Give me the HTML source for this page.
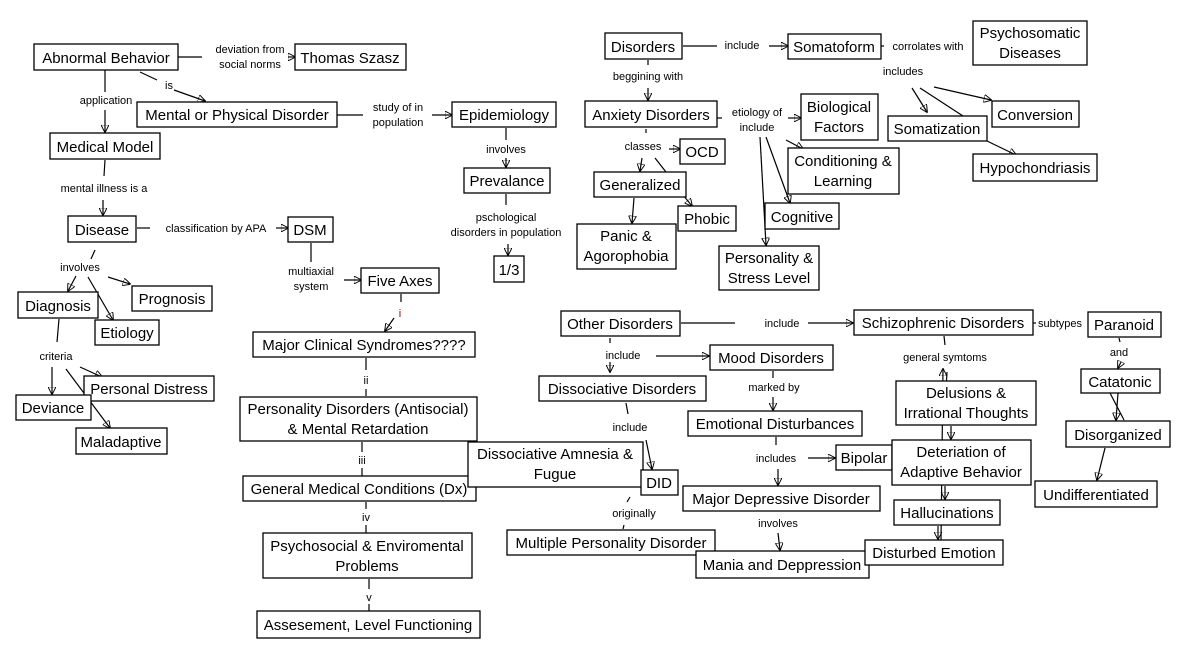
<!DOCTYPE html>
<html><head><meta charset="utf-8"><style>
body{margin:0;background:#fff}
svg{display:block}
.n rect{fill:#fff;stroke:#000;stroke-width:1.3}
.n text{font-family:"Liberation Sans",Arial,sans-serif;font-size:15px;fill:#000;text-anchor:middle}
.l{font-family:"Liberation Sans",Arial,sans-serif;font-size:11px;fill:#000;text-anchor:middle}
line,path{stroke:#000;stroke-width:1.2;fill:none}
</style></head><body>
<svg width="1181" height="658" viewBox="0 0 1181 658" xmlns="http://www.w3.org/2000/svg">
<defs><marker id="a" viewBox="0 0 10 10" refX="9" refY="5" markerWidth="8" markerHeight="8" orient="auto-start-reverse" markerUnits="userSpaceOnUse"><path d="M0,0 L10,5 L0,10 z" fill="#000" stroke="none"/></marker></defs>

<!-- connectors -->
<g>
<line x1="178" y1="57" x2="202" y2="57"/><line x1="288" y1="57" x2="295" y2="57" marker-end="url(#a)"/>
<line x1="140" y1="72" x2="157" y2="80"/><line x1="174" y1="90" x2="205" y2="101" marker-end="url(#a)"/>
<line x1="105" y1="70" x2="105" y2="92"/><line x1="105" y1="110" x2="105" y2="132" marker-end="url(#a)"/>
<line x1="337" y1="115" x2="363" y2="115"/><line x1="432" y1="115" x2="452" y2="115" marker-end="url(#a)"/>
<line x1="506" y1="128" x2="506" y2="140"/><line x1="506" y1="158" x2="506" y2="167" marker-end="url(#a)"/>
<line x1="506" y1="194" x2="506" y2="205"/><line x1="508" y1="244" x2="508" y2="255" marker-end="url(#a)"/>
<line x1="105" y1="160" x2="104" y2="176"/><line x1="103" y1="200" x2="103" y2="215" marker-end="url(#a)"/>
<line x1="137" y1="228" x2="150" y2="228"/><line x1="276" y1="228" x2="288" y2="228" marker-end="url(#a)"/>
<line x1="311" y1="243" x2="311" y2="262"/><line x1="344" y1="280" x2="361" y2="280" marker-end="url(#a)"/>
<line x1="401" y1="294" x2="401" y2="302"/><line x1="394" y1="318" x2="385" y2="331" marker-end="url(#a)"/>
<line x1="95" y1="250" x2="91" y2="259"/>
<line x1="76" y1="276" x2="68" y2="291" marker-end="url(#a)"/>
<line x1="108" y1="277" x2="130" y2="284" marker-end="url(#a)"/>
<line x1="88" y1="277" x2="113" y2="320" marker-end="url(#a)"/>
<line x1="59" y1="319" x2="57" y2="342"/>
<line x1="52" y1="367" x2="52" y2="394" marker-end="url(#a)"/>
<line x1="80" y1="367" x2="102" y2="377" marker-end="url(#a)"/>
<line x1="66" y1="369" x2="110" y2="428" marker-end="url(#a)"/>
<line x1="366" y1="358" x2="366" y2="370"/><line x1="366" y1="389" x2="366" y2="396"/>
<line x1="362" y1="442" x2="362" y2="452"/><line x1="362" y1="468" x2="362" y2="476"/>
<line x1="366" y1="502" x2="366" y2="509"/><line x1="366" y1="525" x2="366" y2="533"/>
<line x1="369" y1="579" x2="369" y2="589"/><line x1="369" y1="604" x2="369" y2="611"/>
<line x1="683" y1="46" x2="717" y2="46"/><line x1="769" y1="46" x2="788" y2="46" marker-end="url(#a)"/>
<line x1="881" y1="46" x2="884" y2="46"/>
<line x1="912" y1="88" x2="927" y2="112" marker-end="url(#a)"/>
<line x1="920" y1="88" x2="963" y2="116"/>
<line x1="934" y1="87" x2="991" y2="100" marker-end="url(#a)"/>
<line x1="987" y1="141" x2="1016" y2="155" marker-end="url(#a)"/>
<line x1="648" y1="60" x2="648" y2="65"/><line x1="648" y1="88" x2="648" y2="100" marker-end="url(#a)"/>
<line x1="717" y1="118" x2="722" y2="118"/>
<line x1="788" y1="118" x2="801" y2="118" marker-end="url(#a)"/>
<line x1="786" y1="140" x2="803" y2="149" marker-end="url(#a)"/>
<line x1="766" y1="137" x2="790" y2="203" marker-end="url(#a)"/>
<line x1="760" y1="137" x2="766" y2="245" marker-end="url(#a)"/>
<line x1="646" y1="129" x2="646" y2="133"/>
<line x1="669" y1="149" x2="680" y2="149" marker-end="url(#a)"/>
<line x1="642" y1="158" x2="640" y2="171" marker-end="url(#a)"/>
<line x1="655" y1="158" x2="666" y2="172"/>
<line x1="683" y1="195" x2="692" y2="206" marker-end="url(#a)"/>
<line x1="634" y1="198" x2="632" y2="223" marker-end="url(#a)"/>
<line x1="681" y1="323" x2="735" y2="323"/><line x1="808" y1="323" x2="853" y2="323" marker-end="url(#a)"/>
<line x1="610" y1="338" x2="610" y2="343"/><line x1="610" y1="362" x2="610" y2="372" marker-end="url(#a)"/>
<line x1="656" y1="356" x2="709" y2="356" marker-end="url(#a)"/>
<line x1="626" y1="403" x2="628" y2="414"/><line x1="646" y1="440" x2="652" y2="469" marker-end="url(#a)"/>
<line x1="630" y1="497" x2="627" y2="502"/><line x1="624" y1="525" x2="623" y2="529"/>
<line x1="773" y1="371" x2="773" y2="378"/><line x1="773" y1="397" x2="773" y2="410" marker-end="url(#a)"/>
<line x1="776" y1="437" x2="776" y2="445"/><line x1="808" y1="458" x2="835" y2="458" marker-end="url(#a)"/>
<line x1="778" y1="469" x2="778" y2="485" marker-end="url(#a)"/>
<line x1="778" y1="533" x2="780" y2="550" marker-end="url(#a)"/>
<line x1="944" y1="336" x2="945" y2="345"/>
<line x1="941" y1="540" x2="943" y2="369" marker-end="url(#a)"/>
<line x1="944" y1="425" x2="947" y2="372"/>
<line x1="951" y1="426" x2="951" y2="439" marker-end="url(#a)"/>
<line x1="945" y1="486" x2="945" y2="499" marker-end="url(#a)"/>
<line x1="938" y1="526" x2="938" y2="539" marker-end="url(#a)"/>
<line x1="1033" y1="323" x2="1036" y2="323"/>
<line x1="1119" y1="338" x2="1120" y2="342"/><line x1="1121" y1="362" x2="1118" y2="368" marker-end="url(#a)"/>
<line x1="1118" y1="393" x2="1116" y2="420" marker-end="url(#a)"/>
<line x1="1110" y1="393" x2="1124" y2="420"/>
<line x1="1105" y1="448" x2="1097" y2="480" marker-end="url(#a)"/>
</g>

<!-- labels -->
<g class="l">
<text x="250" y="53">deviation from</text><text x="250" y="68">social norms</text>
<text x="169" y="89">is</text>
<text x="106" y="104">application</text>
<text x="398" y="111">study of in</text><text x="398" y="126">population</text>
<text x="506" y="153">involves</text>
<text x="506" y="221">pschological</text><text x="506" y="236">disorders in population</text>
<text x="104" y="192">mental illness is a</text>
<text x="216" y="232">classification by APA</text>
<text x="311" y="275">multiaxial</text><text x="311" y="290">system</text>
<text x="400" y="317" fill="#a00" style="fill:#a00">i</text>
<text x="80" y="271">involves</text>
<text x="56" y="360">criteria</text>
<text x="366" y="384">ii</text>
<text x="362" y="464">iii</text>
<text x="366" y="521">iv</text>
<text x="369" y="601">v</text>
<text x="742" y="49">include</text>
<text x="928" y="50">corrolates with</text>
<text x="903" y="75">includes</text>
<text x="648" y="80">beggining with</text>
<text x="757" y="116">etiology of</text><text x="757" y="131">include</text>
<text x="643" y="150">classes</text>
<text x="782" y="327">include</text>
<text x="623" y="359">include</text>
<text x="630" y="431">include</text>
<text x="634" y="517">originally</text>
<text x="774" y="391">marked by</text>
<text x="776" y="462">includes</text>
<text x="778" y="527">involves</text>
<text x="945" y="361">general symtoms</text>
<text x="1060" y="327">subtypes</text>
<text x="1119" y="356">and</text>
</g>

<!-- nodes -->
<g class="n">
<rect x="34" y="44" width="144" height="26"/><text x="106" y="63">Abnormal Behavior</text>
<rect x="295" y="44" width="111" height="26"/><text x="350" y="63">Thomas Szasz</text>
<rect x="137" y="102" width="200" height="25"/><text x="237" y="120">Mental or Physical Disorder</text>
<rect x="452" y="102" width="104" height="25"/><text x="504" y="120">Epidemiology</text>
<rect x="50" y="133" width="110" height="26"/><text x="105" y="152">Medical Model</text>
<rect x="464" y="168" width="86" height="25"/><text x="507" y="186">Prevalance</text>
<rect x="68" y="216" width="68" height="26"/><text x="102" y="235">Disease</text>
<rect x="288" y="217" width="45" height="25"/><text x="310" y="235">DSM</text>
<rect x="494" y="256" width="30" height="26"/><text x="509" y="275">1/3</text>
<rect x="361" y="268" width="78" height="25"/><text x="400" y="286">Five Axes</text>
<rect x="18" y="292" width="80" height="26"/><text x="58" y="311">Diagnosis</text>
<rect x="132" y="286" width="80" height="25"/><text x="172" y="304">Prognosis</text>
<rect x="95" y="320" width="64" height="25"/><text x="127" y="338">Etiology</text>
<rect x="253" y="332" width="222" height="25"/><text x="364" y="350">Major Clinical Syndromes????</text>
<rect x="84" y="376" width="130" height="25"/><text x="149" y="394">Personal Distress</text>
<rect x="16" y="395" width="75" height="25"/><text x="53" y="413">Deviance</text>
<rect x="76" y="428" width="91" height="26"/><text x="121" y="447">Maladaptive</text>
<rect x="240" y="397" width="237" height="44"/><text x="358" y="414">Personality Disorders (Antisocial)</text><text x="358" y="434">&amp; Mental Retardation</text>
<rect x="243" y="476" width="233" height="25"/><text x="359" y="494">General Medical Conditions (Dx)</text>
<rect x="263" y="533" width="209" height="45"/><text x="367" y="551">Psychosocial &amp; Enviromental</text><text x="367" y="571">Problems</text>
<rect x="257" y="611" width="223" height="27"/><text x="368" y="630">Assesement, Level Functioning</text>
<rect x="605" y="33" width="77" height="26"/><text x="643" y="52">Disorders</text>
<rect x="788" y="34" width="93" height="25"/><text x="834" y="52">Somatoform</text>
<rect x="973" y="21" width="114" height="44"/><text x="1030" y="38">Psychosomatic</text><text x="1030" y="58">Diseases</text>
<rect x="585" y="101" width="132" height="26"/><text x="651" y="120">Anxiety Disorders</text>
<rect x="801" y="94" width="77" height="46"/><text x="839" y="112">Biological</text><text x="839" y="132">Factors</text>
<rect x="992" y="101" width="87" height="26"/><text x="1035" y="120">Conversion</text>
<rect x="888" y="116" width="99" height="25"/><text x="937" y="134">Somatization</text>
<rect x="680" y="139" width="45" height="25"/><text x="702" y="157">OCD</text>
<rect x="788" y="148" width="111" height="46"/><text x="843" y="166">Conditioning &amp;</text><text x="843" y="186">Learning</text>
<rect x="973" y="154" width="124" height="27"/><text x="1035" y="173">Hypochondriasis</text>
<rect x="594" y="172" width="92" height="25"/><text x="640" y="190">Generalized</text>
<rect x="678" y="206" width="58" height="25"/><text x="707" y="224">Phobic</text>
<rect x="765" y="203" width="74" height="26"/><text x="802" y="222">Cognitive</text>
<rect x="577" y="224" width="99" height="45"/><text x="626" y="241">Panic &amp;</text><text x="626" y="261">Agorophobia</text>
<rect x="719" y="246" width="100" height="44"/><text x="769" y="263">Personality &amp;</text><text x="769" y="283">Stress Level</text>
<rect x="561" y="311" width="119" height="25"/><text x="620" y="329">Other Disorders</text>
<rect x="854" y="310" width="179" height="25"/><text x="943" y="328">Schizophrenic Disorders</text>
<rect x="1088" y="312" width="73" height="25"/><text x="1124" y="330">Paranoid</text>
<rect x="710" y="345" width="123" height="25"/><text x="771" y="363">Mood Disorders</text>
<rect x="539" y="376" width="167" height="25"/><text x="622" y="394">Dissociative Disorders</text>
<rect x="1081" y="369" width="79" height="24"/><text x="1120" y="387">Catatonic</text>
<rect x="896" y="381" width="140" height="44"/><text x="966" y="398">Delusions &amp;</text><text x="966" y="418">Irrational Thoughts</text>
<rect x="688" y="411" width="174" height="25"/><text x="775" y="429">Emotional Disturbances</text>
<rect x="1066" y="421" width="104" height="26"/><text x="1118" y="440">Disorganized</text>
<rect x="468" y="442" width="175" height="45"/><text x="555" y="459">Dissociative Amnesia &amp;</text><text x="555" y="479">Fugue</text>
<rect x="836" y="445" width="56" height="25"/><text x="864" y="463">Bipolar</text>
<rect x="892" y="440" width="139" height="45"/><text x="961" y="457">Deteriation of</text><text x="961" y="477">Adaptive Behavior</text>
<rect x="641" y="470" width="37" height="25"/><text x="659" y="488">DID</text>
<rect x="683" y="486" width="197" height="25"/><text x="781" y="504">Major Depressive Disorder</text>
<rect x="1035" y="481" width="122" height="26"/><text x="1096" y="500">Undifferentiated</text>
<rect x="894" y="500" width="106" height="25"/><text x="947" y="518">Hallucinations</text>
<rect x="507" y="530" width="208" height="25"/><text x="611" y="548">Multiple Personality Disorder</text>
<rect x="696" y="551" width="173" height="27"/><text x="782" y="570">Mania and Deppression</text>
<rect x="865" y="540" width="138" height="25"/><text x="934" y="558">Disturbed Emotion</text>
</g>
</svg>
</body></html>
